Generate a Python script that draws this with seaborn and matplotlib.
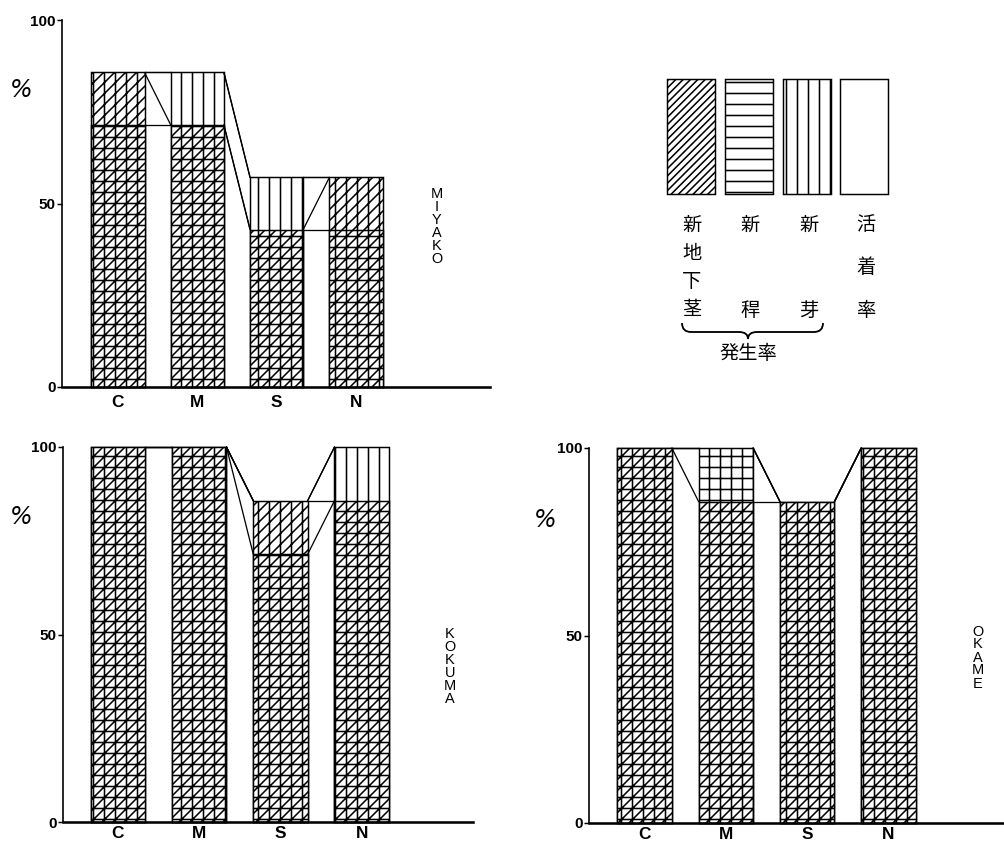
import numpy as np
import matplotlib
matplotlib.use("Agg")
import matplotlib.pyplot as plt
import seaborn as sns
from matplotlib.path import Path
from matplotlib.patches import PathPatch

# ---------------- data (rates in %, 7 plants per plot) ----------------
categories = ["C", "M", "S", "N"]

miyako_survival = [85.7, 85.7, 57.1, 57.1]
miyako_rhizome = [85.7, 71.4, 42.9, 57.1]
miyako_culm = [71.4, 71.4, 42.9, 42.9]
miyako_bud = [85.7, 85.7, 57.1, 57.1]

kokuma_survival = [100, 100, 85.7, 100]
kokuma_rhizome = [100, 100, 85.7, 85.7]
kokuma_culm = [100, 100, 71.4, 85.7]
kokuma_bud = [100, 100, 85.7, 100]

okame_survival = [100, 100, 85.7, 100]
okame_rhizome = [100, 85.7, 85.7, 100]
okame_culm = [100, 100, 85.7, 100]
okame_bud = [100, 100, 85.7, 100]

y_ticks = [0, 50, 100]
legend_labels = ["新地下茎", "新稈", "新芽", "活着率"]
legend_hatches = ["//////", "--", "||", ""]
brace_label = "発生率"

# ---------------- style ----------------
sns.set_theme(style="ticks")
DPI = 132
W, H = 1004, 845
plt.rcParams["font.family"] = ["Liberation Sans", "DejaVu Sans"]
plt.rcParams["hatch.linewidth"] = 0.85
plt.rcParams["hatch.color"] = "black"

fig = plt.figure(figsize=(W / DPI, H / DPI), dpi=DPI)
fig.patch.set_facecolor("white")


def px_rect(x0, x1, ytop, ybot):
    return [x0 / W, 1 - ybot / H, (x1 - x0) / W, (ybot - ytop) / H]


def ftext(x, y, s, **kw):
    fig.text(x / W, 1 - y / H, s, **kw)


def hatch_for(rh, cu, bu):
    h = ""
    if cu and bu:
        h += "++"
    elif cu:
        h += "--"
    elif bu:
        h += "||"
    if rh:
        h += "////"
    return h


def draw_panel(rect, xlim, survival, rhizome, culm, bud, name, name_x, name_cy,
               pct_xy, xpad):
    ax = fig.add_axes(rect)
    ax.set_facecolor("none")
    n = len(categories)
    rates = np.array([rhizome, culm, bud, survival], dtype=float)
    levels = [sorted(set(rates[:, i]), reverse=True) for i in range(n)]
    nlayers = max(len(lv) for lv in levels)
    for j in range(nlayers):
        heights = [lv[min(j, len(lv) - 1)] for lv in levels]
        sns.barplot(x=categories, y=heights, order=categories, color="white",
                    edgecolor="black", linewidth=0.8, width=0.67, saturation=1,
                    errorbar=None, ax=ax, clip_on=False)
        for i, patch in enumerate(ax.containers[-1]):
            L = heights[i]
            patch.set_hatch(hatch_for(rhizome[i] >= L, culm[i] >= L, bud[i] >= L))
            patch.set_facecolor("white")
    bars = ax.containers[0]
    for series in (survival, rhizome, culm, bud):
        for i in range(n - 1):
            x0 = bars[i].get_x() + bars[i].get_width()
            x1 = bars[i + 1].get_x()
            ax.plot([x0, x1], [series[i], series[i + 1]], color="black",
                    lw=0.7, clip_on=False, zorder=5)
    ax.set_xlim(*xlim)
    ax.set_ylim(0, 100)
    ax.set_yticks(y_ticks)
    ax.set_xlabel("")
    ax.set_ylabel("")
    sns.despine(ax=ax)
    ax.spines["left"].set_linewidth(0.9)
    ax.spines["bottom"].set_linewidth(1.4)
    ax.spines["left"].set_color("black")
    ax.spines["bottom"].set_color("black")
    ax.tick_params(axis="y", length=2.5, width=0.8, pad=1, labelsize=8.3,
                   colors="black")
    ax.tick_params(axis="x", length=0, pad=xpad, labelsize=9.4, colors="black")
    for lbl in ax.get_xticklabels() + ax.get_yticklabels():
        lbl.set_fontweight("bold")
    step = 13
    y0 = name_cy - (len(name) - 1) / 2 * step
    for k, ch in enumerate(name):
        ftext(name_x, y0 + k * step, ch, ha="center", va="center", fontsize=7.9,
              color="black")
    ftext(pct_xy[0], pct_xy[1], "%", ha="center", va="center", fontsize=13,
          style="italic", family="DejaVu Sans", color="black")
    return ax


draw_panel(px_rect(62, 490, 20, 387), (-0.706, 4.69),
           miyako_survival, miyako_rhizome, miyako_culm, miyako_bud,
           "MIYAKO", 437, 226.5, (21, 90), 4.5)
draw_panel(px_rect(63, 473, 447, 822), (-0.677, 4.37),
           kokuma_survival, kokuma_rhizome, kokuma_culm, kokuma_bud,
           "KOKUMA", 450, 666.5, (21, 517), 2)
draw_panel(px_rect(589, 1004, 448, 823), (-0.683, 4.42),
           okame_survival, okame_rhizome, okame_culm, okame_bud,
           "OKAME", 978, 657.5, (545, 520), 2)

# ---------------- legend ----------------
lax = fig.add_axes(px_rect(662, 893.4, 79, 194))
sns.barplot(x=legend_labels, y=[1] * len(legend_labels), order=legend_labels,
            color="white", edgecolor="black", linewidth=0.8, width=0.83,
            saturation=1, errorbar=None, ax=lax, clip_on=False)
for patch, h in zip(lax.containers[-1], legend_hatches):
    patch.set_hatch(h)
    patch.set_facecolor("white")
lax.set_xlim(-0.5, len(legend_labels) - 0.5)
lax.set_ylim(0, 1)
lax.axis("off")

cjk = ["Noto Sans CJK JP", "DejaVu Sans"]
col_x = [692, 750, 809, 866]
row_top, row_bot = 225, 310
for cx, label in zip(col_x, legend_labels):
    m = len(label)
    for k, ch in enumerate(label):
        yy = row_top + (row_bot - row_top) * k / (m - 1)
        ftext(cx, yy, ch, ha="center", va="center", fontsize=10.5, family=cjk,
              color="black")

# brace under the three occurrence-rate columns
x0, x1, xm = 682, 823, 748
yt, ym, yb, r = 323, 332, 339, 9
verts_px = [(x0, yt), (x0, ym), (x0 + r, ym), (xm - r, ym), (xm, ym), (xm, yb),
            (xm, ym), (xm + r, ym), (x1 - r, ym), (x1, ym), (x1, yt)]
codes = [Path.MOVETO, Path.CURVE3, Path.CURVE3, Path.LINETO, Path.CURVE3,
         Path.CURVE3, Path.CURVE3, Path.CURVE3, Path.LINETO, Path.CURVE3,
         Path.CURVE3]
verts = [(x / W, 1 - y / H) for x, y in verts_px]
fig.patches.append(PathPatch(Path(verts, codes), transform=fig.transFigure,
                             facecolor="none", edgecolor="black", lw=1.0))
ftext(748, 354, brace_label, ha="center", va="center", fontsize=10.5,
      family=cjk, color="black")

fig.savefig("out.png", dpi=DPI, facecolor="white")
